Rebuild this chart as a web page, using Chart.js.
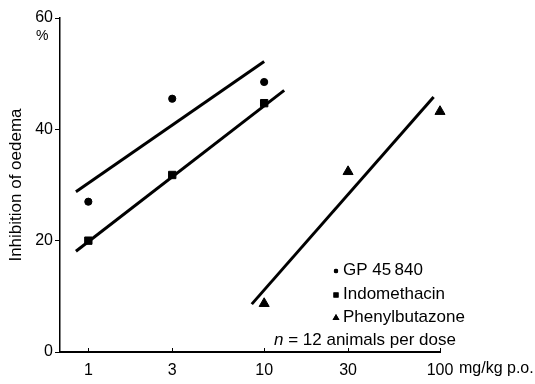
<!DOCTYPE html>
<html>
<head>
<meta charset="utf-8">
<script src="https://cdn.jsdelivr.net/npm/chart.js@4.4.1/dist/chart.umd.min.js"></script>
<style>
  html, body { margin: 0; padding: 0; background: #fff; }
  #wrap { width: 535px; height: 384px; }
</style>
</head>
<body>
<div id="wrap"><canvas id="oedemaChart" width="535" height="384"></canvas></div>
<script>
// dose (mg/kg p.o.) and % inhibition
const doses = [1, 3, 10];
const gpValues = [27, 45.5, 48.5];
const indoValues = [20, 31.8, 44.7];
const phenylDoses = [10, 30, 100];
const phenylValues = [8.7, 32.4, 43.2];

// fitted regression lines (end points)
const gpLineX = [0.85, 10];
const gpLineY = [28.8, 52.2];
const indoLineX = [0.85, 13];
const indoLineY = [18.1, 47];
const phenylLineX = [8.5, 92];
const phenylLineY = [8.6, 45.8];

const xTicks = [1, 3, 10, 30, 100];
const yTicks = [0, 20, 40, 60];

const legendLabels = ['GP 45\u2009840', 'Indomethacin', 'Phenylbutazone'];
const legendStyles = ['circle', 'rect', 'triangle'];

const FONT = "'Liberation Sans', Arial, sans-serif";

function pts(xs, ys) {
    return xs.map((x, i) => ({ x: x, y: ys[i] }));
}

function lineSet(xs, ys) {
    return {
        data: pts(xs, ys),
        showLine: true,
        borderColor: '#000',
        borderWidth: 3,
        pointRadius: 0,
        pointHoverRadius: 0,
        clip: false
    };
}

function pointSet(xs, ys, style, r) {
    return {
        data: pts(xs, ys),
        showLine: false,
        pointStyle: style,
        pointRadius: r,
        backgroundColor: '#000',
        borderColor: '#000',
        borderWidth: 1,
        clip: false
    };
}

// extra text: %, unit, legend
const extras = {
    id: 'extras',
    afterDraw(chart) {
        const ctx = chart.ctx;
        ctx.save();
        ctx.fillStyle = '#000';
        ctx.textBaseline = 'middle';

        ctx.font = '14px ' + FONT;
        ctx.textAlign = 'left';
        ctx.fillText('%', 36, 36);

        ctx.font = '16px ' + FONT;
        ctx.fillText('mg/kg p.o.', 459, 369);

        // x ticks point up into the plot
        const xs = chart.scales.x;
        const bottom = chart.chartArea.bottom;
        ctx.strokeStyle = '#000';
        ctx.lineWidth = 1;
        xTicks.forEach(v => {
            const px = Math.round(xs.getPixelForValue(v)) + 0.5;
            ctx.beginPath();
            ctx.moveTo(px, bottom);
            ctx.lineTo(px, bottom - 4);
            ctx.stroke();
        });

        ctx.font = '17px ' + FONT;
        const lx = 336, tx = 343;
        const rows = [270, 294, 317];
        const sizes = [2.2, 3.6, 4];
        legendLabels.forEach((lab, i) => {
            Chart.helpers.drawPoint(ctx, {
                pointStyle: legendStyles[i], radius: sizes[i], rotation: 0, borderWidth: 0
            }, lx, rows[i] + 1);
            ctx.fill();
            ctx.fillText(lab, tx, rows[i]);
        });

        ctx.font = 'italic 17px ' + FONT;
        ctx.fillText('n', 274, 340);
        const nw = ctx.measureText('n').width;
        ctx.font = '17px ' + FONT;
        ctx.fillText(' = 12 animals per dose', 274 + nw, 340);
        ctx.restore();
    }
};

const ctx = document.getElementById('oedemaChart').getContext('2d');
const chart = new Chart(ctx, {
    type: 'scatter',
    data: {
        datasets: [
            lineSet(gpLineX, gpLineY),
            lineSet(indoLineX, indoLineY),
            lineSet(phenylLineX, phenylLineY),
            pointSet(doses, gpValues, 'circle', 3.6),
            pointSet(doses, indoValues, 'rect', 5.2),
            pointSet(phenylDoses, phenylValues, 'triangle', 5.8)
        ]
    },
    options: {
        responsive: false,
        animation: false,
        layout: { padding: { top: 18, right: 95, left: 0, bottom: 0 } },
        plugins: {
            legend: { display: false },
            tooltip: { enabled: false }
        },
        scales: {
            x: {
                type: 'logarithmic',
                min: 0.69,
                max: 100,
                afterBuildTicks: s => { s.ticks = xTicks.map(v => ({ value: v })); },
                afterFit: s => { s.height = 32; },
                grid: { display: true, drawOnChartArea: false, drawTicks: false },
                border: { color: '#000', width: 2 },
                ticks: {
                    color: '#000',
                    padding: 9,
                    maxRotation: 0,
                    autoSkip: false,
                    font: { family: FONT, size: 16 },
                    callback: v => String(v)
                }
            },
            y: {
                min: 0,
                max: 60,
                afterBuildTicks: s => { s.ticks = yTicks.map(v => ({ value: v })); },
                afterFit: s => { s.width = 60; },
                grid: { drawOnChartArea: false, drawTicks: true, tickLength: 5, color: '#000' },
                border: { color: '#000', width: 1.5 },
                title: {
                    display: true,
                    text: 'Inhibition of oedema',
                    color: '#000',
                    font: { family: FONT, size: 17 },
                    padding: { top: 6, bottom: 0 }
                },
                ticks: {
                    color: '#000',
                    padding: 2,
                    font: { family: FONT, size: 16 }
                }
            }
        }
    },
    plugins: [extras]
});
</script>
</body>
</html>
